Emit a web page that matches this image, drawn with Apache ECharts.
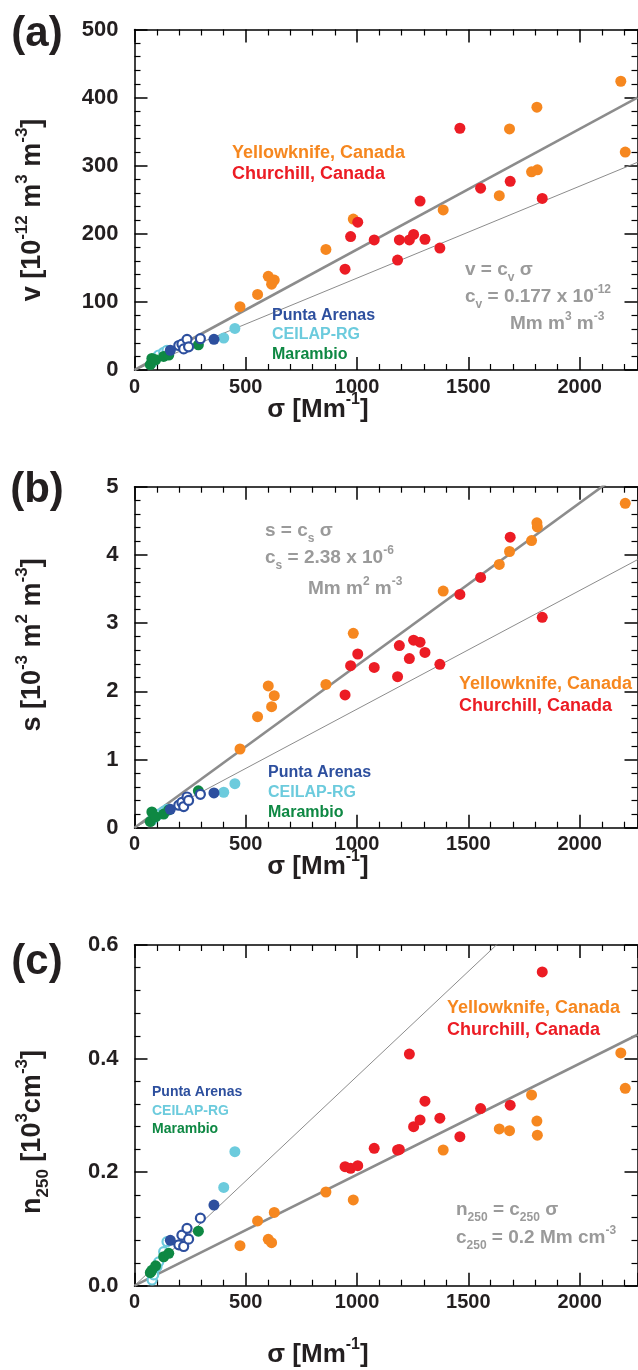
<!DOCTYPE html>
<html><head><meta charset="utf-8">
<script src="https://cdn.jsdelivr.net/npm/echarts@6/dist/echarts.min.js"></script>
<style>html,body{margin:0;padding:0;background:#fff}#c{width:638px;height:1370px}</style>
</head><body><div id="c"></div>
<script>
// ---------- DATA ----------
const xTickLabels = ['0', '500', '1000', '1500', '2000'];
const yTickLabelsA = ['0', '100', '200', '300', '400', '500'];
const yTickLabelsB = ['0', '1', '2', '3', '4', '5'];
const yTickLabelsC = ['0.0', '0.2', '0.4', '0.6'];

// Yellowknife, Canada
const ykSigma = [474, 553, 601, 616, 628, 860, 983, 1387, 1639, 1685, 1784, 1808, 1810, 2185, 2205];
const ykV     = [93, 111, 137.6, 126, 132, 177, 221.7, 235, 256, 354, 291, 386, 294, 424, 320];
const ykS     = [1.154, 1.628, 2.078, 1.775, 1.936, 2.10, 2.85, 3.47, 3.86, 4.05, 4.21, 4.47, 4.41, null, 4.757];
const ykN     = [0.0705, 0.114, 0.0817, 0.0758, 0.129, 0.165, 0.151, 0.239, 0.276, 0.273, 0.336, 0.29, 0.265, 0.410, 0.3476];

// Churchill, Canada
const chSigma = [946, 971, 1003, 1077, 1182, 1190, 1235, 1254, 1283, 1305, 1372, 1462, 1555, 1688, 1832];
const chV     = [148, 196, 217, 191, 161.5, 191, 191, 199, 248, 192, 179, 355, 267, 277, 252];
const chS     = [1.946, 2.375, 2.547, 2.35, 2.214, 2.67, 2.48, 2.75, 2.72, 2.57, 2.395, 3.42, 3.67, 4.26, 3.085];
const chN     = [0.2096, 0.2067, 0.2114, 0.242, 0.239, 0.240, 0.408, 0.28, 0.292, 0.325, 0.295, 0.2625, 0.312, 0.318, 0.5525];

// Punta Arenas (open / filled)
const paOpenSigma = [199, 213, 221, 236, 243, 296];
const paOpenV     = [36, 38, 31, 45, 34, 46];
const paOpenS     = [0.33, 0.37, 0.31, 0.45, 0.40, 0.49];
const paOpenN     = [0.072, 0.089, 0.069, 0.101, 0.082, 0.119];
const paFillSigma = [161, 357];
const paFillV     = [29, 45];
const paFillS     = [0.27, 0.51];
const paFillN     = [0.080, 0.142];

// CEILAP-RG (open / filled)
const ceOpenSigma = [79, 86, 101, 109, 131, 146];
const ceOpenV     = [11, 14, 19, 22, 26, 29];
const ceOpenS     = [0.11, 0.14, 0.18, 0.20, 0.24, 0.27];
const ceOpenN     = [0.010, 0.019, 0.0335, 0.042, 0.060, 0.0775];
const ceFillSigma = [401, 451];
const ceFillV     = [47, 61];
const ceFillS     = [0.52, 0.645];
const ceFillN     = [0.173, 0.236];

// Marambio (filled)
const maSigma = [71, 78, 95, 131, 154, 287];
const maV     = [8, 17, 15, 20, 22, 37];
const maS     = [0.09, 0.23, 0.16, 0.20, 0.26, 0.54];
const maN     = [0.023, 0.027, 0.035, 0.051, 0.057, 0.096];

// Fit lines (end points)
const fitAThick = [[0, 0], [2260, 400]];
const fitAThin  = [[0, 0], [2260, 305]];
const fitBThick = [[0, 0], [2260, 5.38]];
const fitBThin  = [[0, 0], [2260, 3.93]];
const fitCThick = [[0, 0], [2260, 0.442]];
const fitCThin  = [[0, 0], [2260, 0.834]];

// ---------- STYLE ----------
const FF = '"Liberation Sans", Arial, Helvetica, sans-serif';
const C = {yk:'#F6871F', ch:'#EC1C24', pa:'#2D4F9E', ce:'#6CCBDD', ma:'#0E8843', fit:'#8C8C8C', eq:'#9A9A9A', ink:'#231F20'};
const XMAX = 2260;

const grids = [
  {left:134.5, top:29.5, width:503, height:340.5},
  {left:134.5, top:486.7, width:503, height:341},
  {left:134.5, top:945, width:503, height:340.7}
];
const yCfg = [
  {max:500, interval:100, labels:yTickLabelsA},
  {max:5, interval:1, labels:yTickLabelsB},
  {max:0.6, interval:0.2, labels:yTickLabelsC}
];

const line = {show:true, onZero:false, lineStyle:{color:'#000', width:1.5}};
const tick = {show:true, inside:true, length:13, lineStyle:{color:'#000', width:1.5}};
const minor = {show:true, splitNumber:5, length:6, lineStyle:{color:'#000', width:1.2}};

const xAxis = [], yAxis = [];
grids.forEach((g, i) => {
  xAxis.push({gridIndex:i, type:'value', min:0, max:XMAX, interval:500, position:'bottom',
    axisLine:line, axisTick:tick, minorTick:minor, splitLine:{show:false},
    axisLabel:{show:true, margin:7, fontSize:20, fontWeight:'bold', fontFamily:FF, color:C.ink,
      showMaxLabel:false, formatter:(v)=>{const k=Math.round(v/500); return (Math.abs(v-k*500)<1e-6 && xTickLabels[k]!==undefined)? xTickLabels[k] : '';}}});
  xAxis.push({gridIndex:i, type:'value', min:0, max:XMAX, interval:500, position:'top',
    axisLine:line, axisTick:tick, minorTick:minor, splitLine:{show:false}, axisLabel:{show:false}});
  const yc = yCfg[i];
  yAxis.push({gridIndex:i, type:'value', min:0, max:yc.max, interval:yc.interval, position:'left',
    axisLine:line, axisTick:tick, minorTick:minor, splitLine:{show:false},
    axisLabel:{show:true, margin:16, fontSize:22, fontWeight:'bold', fontFamily:FF, color:C.ink,
      formatter:(v)=>{const k=Math.round(v/yc.interval); return yc.labels[k]!==undefined? yc.labels[k] : '';}}});
  yAxis.push({gridIndex:i, type:'value', min:0, max:yc.max, interval:yc.interval, position:'right',
    axisLine:line, axisTick:tick, minorTick:minor, splitLine:{show:false}, axisLabel:{show:false}});
});

function pts(xs, ys) { const o=[]; xs.forEach((x,k)=>{ if (ys[k]!==null && ys[k]!==undefined) o.push([x, ys[k]]); }); return o; }
function filled(i, data, color) {
  return {type:'scatter', xAxisIndex:2*i, yAxisIndex:2*i, data, symbol:'circle', symbolSize:11,
    itemStyle:{color, opacity:1}, silent:true, z:5, animation:false};
}
function open(i, data, color) {
  return {type:'scatter', xAxisIndex:2*i, yAxisIndex:2*i, data, symbol:'circle', symbolSize:9,
    itemStyle:{color:'#fff', borderColor:color, borderWidth:2.2, opacity:1}, silent:true, z:5, animation:false};
}
function fit(i, data, w) {
  return {type:'line', xAxisIndex:2*i, yAxisIndex:2*i, data, showSymbol:false, symbol:'none', clip:true,
    lineStyle:{color:C.fit, width:w}, silent:true, z:2, animation:false};
}

const series = [];
const panels = [
  {yk:ykV, ch:chV, paO:paOpenV, paF:paFillV, ceO:ceOpenV, ceF:ceFillV, ma:maV, fits:[fitAThick, fitAThin]},
  {yk:ykS, ch:chS, paO:paOpenS, paF:paFillS, ceO:ceOpenS, ceF:ceFillS, ma:maS, fits:[fitBThick, fitBThin]},
  {yk:ykN, ch:chN, paO:paOpenN, paF:paFillN, ceO:ceOpenN, ceF:ceFillN, ma:maN, fits:[fitCThick, fitCThin]}
];
panels.forEach((p, i) => {
  series.push(fit(i, p.fits[0], 2.6));
  series.push(fit(i, p.fits[1], 1));
  series.push(filled(i, pts(ykSigma, p.yk), C.yk));
  series.push(filled(i, pts(chSigma, p.ch), C.ch));
  series.push(filled(i, pts(ceFillSigma, p.ceF), C.ce));
  series.push(open(i, pts(ceOpenSigma, p.ceO), C.ce));
  series.push(filled(i, pts(maSigma, p.ma), C.ma));
  series.push(filled(i, pts(paFillSigma, p.paF), C.pa));
  series.push(open(i, pts(paOpenSigma, p.paO), C.pa));
});

// ---------- TEXT ----------
function rich(S) {
  const s = Math.round(S * 0.62);
  return {
    b:{fontSize:S, fontWeight:'bold', fontFamily:FF, lineHeight:Math.round(S*1.4)},
    sp:{fontSize:s, fontWeight:'bold', fontFamily:FF, lineHeight:s, verticalAlign:'top'},
    sb:{fontSize:s, fontWeight:'bold', fontFamily:FF, lineHeight:s, verticalAlign:'bottom'}
  };
}
function T(x, y, text, S, color, align, rot) {
  return {type:'text', x, y, rotation:rot||0, z:100, silent:true,
    style:{text, rich:rich(S), fill:color, align:align||'left', verticalAlign:'middle',
      fontSize:S, fontWeight:'bold', fontFamily:FF}};
}
const graphic = [
  // panel labels
  T(37, 34, '{b|(a)}', 42, C.ink, 'center'),
  T(37, 490, '{b|(b)}', 42, C.ink, 'center'),
  T(37, 962, '{b|(c)}', 42, C.ink, 'center'),
  // y titles
  T(33, 210, '{b|v [10}{sp|-12}{b| m}{sp|3}{b| m}{sp|-3}{b|]}', 27, C.ink, 'center', Math.PI/2),
  T(33, 645, '{b|s [10}{sp|-3}{b| m}{sp|2}{b| m}{sp|-3}{b|]}', 27, C.ink, 'center', Math.PI/2),
  T(33, 1132, '{b|n}{sb|250}{b| [10}{sp|3}{b|cm}{sp|-3}{b|]}', 27, C.ink, 'center', Math.PI/2),
  // x titles
  T(318, 410, '{b|σ [Mm}{sp|-1}{b|]}', 26, C.ink, 'center'),
  T(318, 867, '{b|σ [Mm}{sp|-1}{b|]}', 26, C.ink, 'center'),
  T(318, 1355, '{b|σ [Mm}{sp|-1}{b|]}', 26, C.ink, 'center'),
  // panel a legend + eq
  T(232, 153, '{b|Yellowknife, Canada}', 18, C.yk),
  T(232, 174, '{b|Churchill, Canada}', 18, C.ch),
  T(272, 316, '{b|Punta Arenas}', 16, C.pa),
  T(272, 335, '{b|CEILAP-RG}', 16, C.ce),
  T(272, 355, '{b|Marambio}', 16, C.ma),
  T(465, 270, '{b|v = c}{sb|v}{b| σ}', 19, C.eq),
  T(465, 297, '{b|c}{sb|v}{b| = 0.177 x 10}{sp|-12}', 19, C.eq),
  T(510, 324, '{b|Mm m}{sp|3}{b| m}{sp|-3}', 19, C.eq),
  // panel b
  T(265, 531, '{b|s = c}{sb|s}{b| σ}', 19, C.eq),
  T(265, 558, '{b|c}{sb|s}{b| = 2.38 x 10}{sp|-6}', 19, C.eq),
  T(308, 589, '{b|Mm m}{sp|2}{b| m}{sp|-3}', 19, C.eq),
  T(459, 684, '{b|Yellowknife, Canada}', 18, C.yk),
  T(459, 706, '{b|Churchill, Canada}', 18, C.ch),
  T(268, 773, '{b|Punta Arenas}', 16, C.pa),
  T(268, 793, '{b|CEILAP-RG}', 16, C.ce),
  T(268, 813, '{b|Marambio}', 16, C.ma),
  // panel c
  T(447, 1008, '{b|Yellowknife, Canada}', 18, C.yk),
  T(447, 1030, '{b|Churchill, Canada}', 18, C.ch),
  T(152, 1092, '{b|Punta Arenas}', 14, C.pa),
  T(152, 1111, '{b|CEILAP-RG}', 14, C.ce),
  T(152, 1129, '{b|Marambio}', 14, C.ma),
  T(456, 1210, '{b|n}{sb|250}{b| = c}{sb|250}{b| σ}', 19, C.eq),
  T(456, 1238, '{b|c}{sb|250}{b| = 0.2 Mm cm}{sp|-3}', 19, C.eq)
];

const chart = echarts.init(document.getElementById('c'), null, {renderer:'canvas'});
chart.setOption({animation:false, backgroundColor:'#fff', grid:grids, xAxis, yAxis, series, graphic});
</script></body></html>
